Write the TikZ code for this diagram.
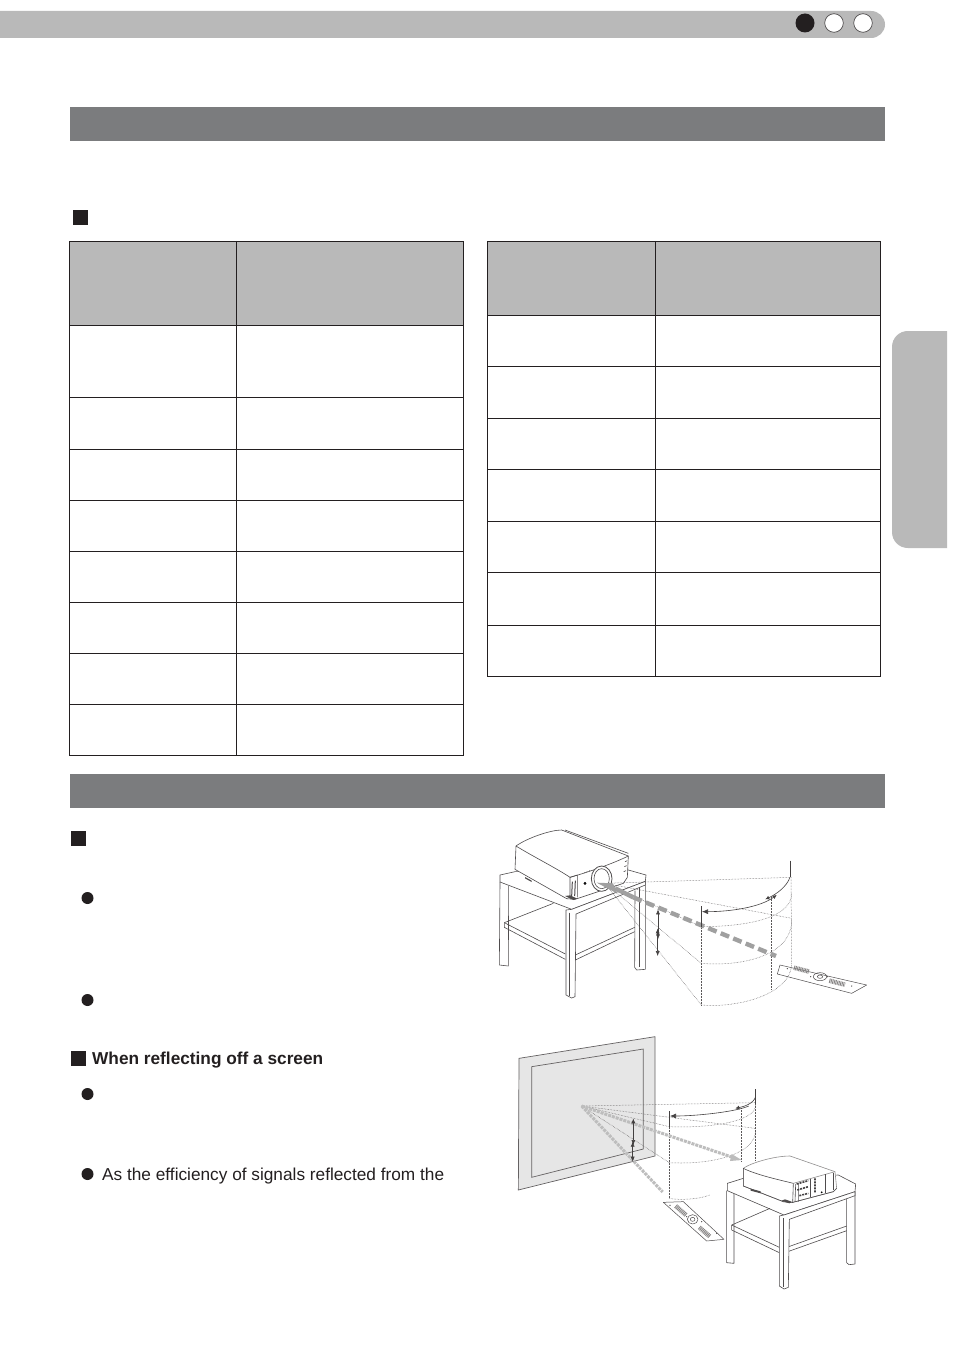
\documentclass[tikz,border=0pt]{standalone}
\usepackage{fontspec}
\setmainfont{Liberation Sans}
\usetikzlibrary{arrows.meta}
\definecolor{ink}{HTML}{231F20}
\definecolor{bandgray}{HTML}{7B7C7E}
\definecolor{lightgray2}{HTML}{B9B9B9}
\definecolor{screenfill}{HTML}{E6E6E6}
\definecolor{beam}{HTML}{A0A0A0}
\tikzset{
  cell/.style={draw=ink,line width=0.8pt},
  band/.style={fill=bandgray,draw=none},
  sqmark/.style={fill=ink,draw=none},
  dotmark/.style={fill=ink,draw=none},
  body/.style={anchor=base west,text=ink,inner sep=0pt,font=\fontsize{17.25}{20}\selectfont},
  art/.style={draw=ink!80,line width=0.6pt,line join=round},
  artw/.style={art,fill=white},
  fan/.style={draw=ink!75,line width=0.5pt,densely dotted},
  guide/.style={draw=ink!85,line width=0.6pt},
  dim/.style={draw=ink!85,line width=0.6pt,{Latex[length=5pt,width=4pt]}-{Latex[length=5pt,width=4pt]}},
  beamdash/.style={draw=beam,line width=4.4pt,dash pattern=on 9pt off 4.5pt},
  beamthin/.style={draw=beam!70,line width=3pt,dash pattern=on 3pt off 1pt},
  keys/.style={draw=ink!55,line width=4.5pt,dash pattern=on 0.9pt off 0.7pt}
}
\begin{document}
\begin{tikzpicture}[x=1pt,y=-1pt]
\useasboundingbox (0,0) rectangle (954,1356);
\fill[white] (0,0) rectangle (954,1356);
% top strip
\fill[lightgray2] (0,11) -- (871,11) .. controls (878.5,11) and (885,17) .. (885,24.5) .. controls (885,32) and (878.5,38) .. (871,38) -- (0,38) -- cycle;
\fill[ink] (805,23) circle (9.5);
\draw[fill=white,draw=ink!80,line width=0.7pt] (834,23) circle (9.3);
\draw[fill=white,draw=ink!80,line width=0.7pt] (863,23) circle (9.3);
% bands
\fill[band] (70,107) rectangle (885,141);
\fill[band] (70,774) rectangle (885,808);
% side tab
\fill[lightgray2] (947,331) -- (908,331) .. controls (899,331) and (892,338) .. (892,347) -- (892,532) .. controls (892,541) and (899,548) .. (908,548) -- (947,548) -- cycle;
% marks
\fill[sqmark] (73,210) rectangle (88,225);
\fill[sqmark] (71,831) rectangle (86,846);
\fill[sqmark] (71,1051) rectangle (86,1066);
\foreach \yy in {898,1000,1094,1174} \fill[dotmark] (87.5,\yy) circle (6);
% left table
\fill[lightgray2] (69.5,241) rectangle (463.5,325);
\draw[cell] (69.5,241) rectangle (463.5,755);
\draw[cell] (236.5,241) -- (236.5,755);
\foreach \yy in {325,397,449,500,551,602,653,704} \draw[cell] (69.5,\yy) -- (463.5,\yy);
% right table
\fill[lightgray2] (487.5,241) rectangle (880.5,315);
\draw[cell] (487.5,241) rectangle (880.5,676);
\draw[cell] (655.5,241) -- (655.5,676);
\foreach \yy in {315,366,418,469,521,572,625} \draw[cell] (487.5,\yy) -- (880.5,\yy);
% text
\node[body,font=\bfseries\fontsize{17.25}{20}\selectfont] (t1) at (92,1064) {When reflecting off a screen};
\node[body] (t2) at (102,1180) {As the efficiency of signals reflected from the};

% ---------- figure 1 ----------
\begin{scope}[shift={(490,820)},scale=1/3]
% table
\draw[artw] (30,165) -- (75,155) -- (415,150) -- (468,165) -- (466,184) -- (245,268) -- (30,186) -- cycle;
\draw[art] (30,186) -- (28,435) -- (55,438) -- (56,198);
\draw[art] (435,212) -- (434,442) -- (440,450) -- (466,448) -- (466,184);
\draw[art] (448,190) -- (448,440);
\draw[art] (43,308) -- (43,322) -- (226,418);
\draw[art] (43,308) -- (190,250);
\draw[art] (43,308) -- (226,402);
\draw[art] (256,405) -- (434,322);
\draw[art] (256,420) -- (434,335);
\draw[artw] (228,270) -- (245,268) -- (466,184) -- (466,195) -- (258,282) -- (255,530) -- (245,534) -- (228,525) -- cycle;
\draw[art] (238,278) -- (238,528);
% projector
\draw[artw] (78,78) .. controls (110,55) and (180,30) .. (215,30) -- (415,108) -- (412,172) -- (400,190) -- (255,238) -- (230,236) -- (75,148) -- cycle;
\draw[art] (78,78) .. controls (130,110) and (200,145) .. (240,172) -- (240,235);
\draw[art] (240,172) .. controls (300,155) and (370,130) .. (415,108);
\draw[art] (225,30) -- (415,100);
\draw[art] (240,172) -- (262,165) -- (262,232);
\draw[art,line width=1pt] (247,185) -- (245,228);
\draw[art,line width=1pt] (256,182) -- (254,228);
\draw[fill=ink] (285,190) circle (3.5);
\draw[fill=ink!70,draw=none] (283,158) circle (1.5) (291,155) circle (1.5) (299,152) circle (1.5);
\draw[artw,line width=0.8pt] (335,176) ellipse (31 and 38);
\draw[artw] (335,176) ellipse (23 and 30);
\draw[art] (405,125) -- (412,122) (403,140) -- (410,137) (401,155) -- (408,152);
\fill[ink!80] (105,175) -- (125,186) -- (125,182) -- (105,171) -- cycle;
\fill[ink!80] (225,228) -- (250,240) -- (262,236) -- (240,226) -- cycle;
% fan lines
\draw[fan] (345,190) -- (903,172);
\draw[fan] (345,190) -- (905,295);
\draw[fan] (345,190) -- (634,320);
\draw[fan] (345,190) -- (634,430);
\draw[fan] (345,190) -- (634,555);
\draw[fan] (634,320) -- (634,555);
\draw[fan] (845,232) -- (845,508);
\draw[fan] (903,172) -- (905,430);
\draw[fan] (634,320) .. controls (750,320) and (905,300) .. (905,220);
\draw[fan] (634,430) .. controls (750,440) and (905,410) .. (905,300);
\draw[fan] (634,555) .. controls (750,565) and (905,520) .. (905,430);
% beam
\draw[beam,line width=4.4pt] (375,205) -- (430,232);
\draw[beamdash] (430,232) -- (858,408);
\fill[beam] (320,188) -- (369,190) -- (381,220) -- cycle;
% guide arcs
\draw[guide] (634,258) -- (634,322);
\draw[guide] (902,122) -- (902,172);
\draw[guide,{Latex[length=6pt,width=5pt]}-{Latex[length=4pt,width=4pt]}] (636,275) .. controls (720,275) and (810,262) .. (860,225);
\draw[guide,{Latex[length=4pt,width=4pt]}-] (826,238) .. controls (860,222) and (890,200) .. (900,172);
% vertical dims
\draw[dim] (504,268) -- (504,358);
\draw[dim] (503,325) -- (503,408);
% remote
\draw[art,line width=0.5pt] (870,435) -- (1130,495) -- (1085,520) -- (862,462) -- cycle;
\draw[art,line width=0.5pt] (990,470) ellipse (20 and 12);
\draw[art,line width=0.5pt] (990,470) ellipse (8 and 5);
\draw[keys] (912,443) -- (958,455);
\draw[keys] (1018,482) -- (1065,494);
\fill[ink!80] (892,446) circle (2) (962,470) circle (2) (1012,470) circle (2) (1085,498) circle (2);
\end{scope}

% ---------- figure 2 ----------
\begin{scope}[shift={(510,1030)},scale=1/3]
\draw[draw=ink!70,fill=screenfill,line width=0.7pt] (27,85) -- (435,20) -- (435,378) -- (25,480) -- cycle;
\draw[draw=ink!70,line width=0.7pt] (65,110) -- (400,57) -- (400,357) -- (65,442) -- cycle;
% fan
\draw[fan] (215,228) -- (735,218);
\draw[fan] (215,228) -- (735,295);
\draw[fan] (215,228) -- (478,290);
\draw[fan] (215,228) -- (478,398);
\draw[fan] (478,290) -- (478,505);
\draw[fan] (695,235) -- (695,395);
\draw[fan] (737,195) -- (737,390);
\draw[fan] (478,290) .. controls (600,295) and (737,275) .. (737,225);
\draw[fan] (478,398) .. controls (600,405) and (737,375) .. (737,300);
\draw[fan] (478,505) .. controls (500,510) and (560,510) .. (600,495);
% beams
\draw[beamthin] (215,228) -- (668,382);
\fill[beam!70] (660,393) -- (695,390) -- (665,372) -- cycle;
\draw[beamthin] (215,228) -- (458,486);
% guides
\draw[guide] (478,243) -- (478,292);
\draw[guide] (737,178) -- (737,222);
\draw[guide,{Latex[length=6pt,width=5pt]}-] (480,258) .. controls (560,258) and (680,245) .. (716,228);
\draw[guide,{Latex[length=4pt,width=4pt]}-] (676,235) .. controls (700,230) and (730,222) .. (737,200);
\draw[dim] (370,265) -- (370,345);
\draw[dim] (368,335) -- (368,395);
% remote
\draw[art,line width=0.5pt] (460,517) -- (520,515) -- (642,628) -- (590,633) -- cycle;
\draw[art,line width=0.5pt] (548,568) ellipse (16 and 14);
\draw[art,line width=0.5pt] (548,568) ellipse (7 and 6);
\draw[keys] (497,528) -- (528,555);
\draw[keys] (568,592) -- (600,620);
\fill[ink!80] (480,526) circle (2) (530,560) circle (2) (575,575) circle (2) (620,610) circle (2);
% table
\draw[artw] (652,460) -- (700,445) -- (985,435) -- (1037,462) -- (1035,485) -- (822,555) -- (652,482) -- cycle;
\draw[art] (650,482) -- (650,698) -- (672,700) -- (672,492);
\draw[art] (1010,500) -- (1010,698) -- (1017,704) -- (1035,702) -- (1035,485);
\draw[art] (665,585) -- (665,600) -- (808,668);
\draw[art] (665,585) -- (780,535);
\draw[art] (665,585) -- (808,652);
\draw[art] (836,650) -- (1010,588);
\draw[art] (836,664) -- (1010,602);
\draw[artw] (808,558) -- (822,555) -- (1035,485) -- (1035,497) -- (838,568) -- (835,772) -- (822,777) -- (808,768) -- cycle;
\draw[art] (820,565) -- (820,772);
% projector
\draw[artw,draw=ink!50] (700,415) .. controls (720,400) and (790,378) .. (840,378) -- (975,425) -- (980,475) -- (970,485) -- (845,518) -- (820,515) -- (700,468) -- cycle;
\draw[art] (700,468) -- (700,415) .. controls (740,435) and (810,450) .. (850,460);
\draw[art,draw=ink!50] (850,460) -- (975,425);
\draw[art] (700,468) -- (820,515) -- (845,518) -- (970,485) -- (980,475);
\draw[art] (850,460) -- (848,518);
\draw[art] (857,462) -- (855,515) (865,460) -- (865,515);
\draw[art] (900,448) -- (900,500) (945,432) -- (945,490) (970,428) -- (970,480);
\draw[ink!85,line width=1.6pt,dash pattern=on 2pt off 1pt] (860,462) -- (895,452) (862,480) -- (895,470) (868,497) -- (895,490) (915,445) -- (915,490);
\draw[fill=ink] (935,487) circle (2);
\fill[ink!80] (722,482) -- (752,490) -- (752,484) -- (722,476) -- cycle;
\fill[ink!80] (815,512) -- (838,520) -- (845,515) -- (825,508) -- cycle;
\end{scope}
\end{tikzpicture}
\end{document}
